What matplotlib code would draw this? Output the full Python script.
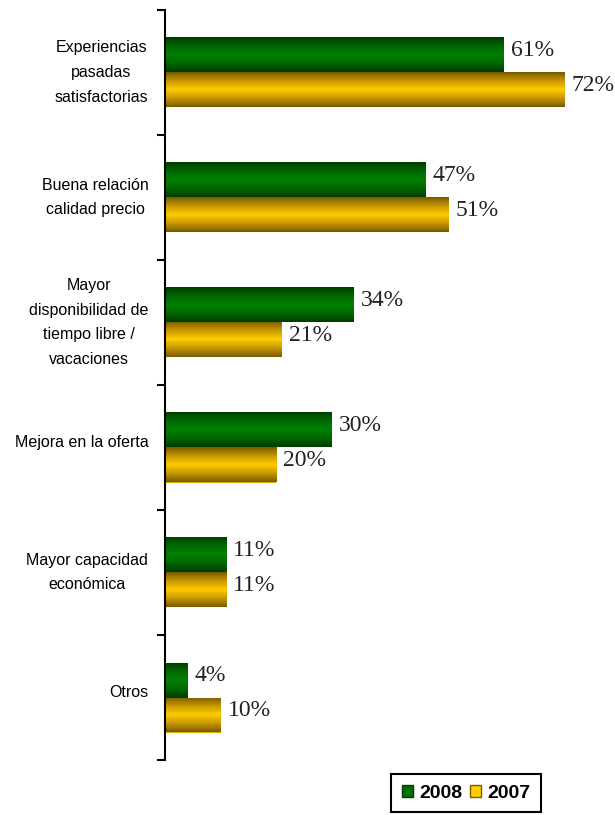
import numpy as np
import matplotlib
matplotlib.use("Agg")
import matplotlib.pyplot as plt
from matplotlib.colors import LinearSegmentedColormap
from matplotlib.patches import Patch

categories = ["Experiencias\npasadas\nsatisfactorias",
              "Buena relación\ncalidad precio",
              "Mayor\ndisponibilidad de\ntiempo libre /\nvacaciones",
              "Mejora en la oferta",
              "Mayor capacidad\neconómica",
              "Otros"]
v2008 = [61, 47, 34, 30, 11, 4]
v2007 = [72, 51, 21, 20, 11, 10]
series_names = ["2008", "2007"]

# gradient maps: dark edge -> bright middle -> dark edge
green_cm = LinearSegmentedColormap.from_list("g", ["#003c00", "#006800", "#008000", "#006800", "#003c00"])
gold_cm = LinearSegmentedColormap.from_list("y", ["#7a5c00", "#c89800", "#ffcc00", "#c89800", "#7a5c00"])

fig = plt.figure(figsize=(6.15, 8.15), dpi=100)
ax = fig.add_axes([165 / 615, 55 / 815, 447 / 615, 750 / 815])

y = np.arange(len(categories))
h = 0.28
bars08 = ax.barh(y - h / 2, v2008, height=h, color="#007000", linewidth=0)
bars07 = ax.barh(y + h / 2, v2007, height=h, color="#e0b000", linewidth=0)

grad = np.linspace(0, 1, 64).reshape(-1, 1)
for bars, cm in [(bars08, green_cm), (bars07, gold_cm)]:
    for b in bars:
        x0, y0 = b.get_x(), b.get_y()
        im = ax.imshow(grad, cmap=cm, aspect="auto", interpolation="nearest",
                       extent=[x0, x0 + b.get_width(), y0 + b.get_height(), y0], zorder=2)
        im.set_clip_path(b)

for bars, vals in [(bars08, v2008), (bars07, v2007)]:
    for b, v in zip(bars, vals):
        ax.annotate(f"{v}%", (b.get_width(), b.get_y() + b.get_height() / 2),
                    xytext=(5, 3), textcoords="offset points",
                    va="center", ha="left", fontsize=17, family="Liberation Serif", color="#222222")

ax.set_xlim(0, 80.5)
ax.set_ylim(len(categories) - 0.5, -0.5)

# labels sit slightly above the category centre in the original
ax.set_yticks(y - 0.05)
ax.set_yticklabels(categories, fontsize=11.5, family="Liberation Sans", linespacing=1.8,
                   multialignment="center")
ax.set_yticks(np.arange(len(categories) + 1) - 0.5, minor=True)
ax.tick_params(axis="y", which="major", length=0, pad=12)
ax.tick_params(axis="y", which="minor", length=6, width=1.5, direction="out")
ax.set_xticks([])

for s in ["top", "right", "bottom"]:
    ax.spines[s].set_visible(False)
ax.spines["left"].set_linewidth(1.5)

handles = [Patch(facecolor="#007000", edgecolor="#003c00"),
           Patch(facecolor="#ffcc00", edgecolor="#7a5c00")]
leg = fig.legend(handles, series_names, loc="upper left", bbox_to_anchor=(391 / 615, 1 - 774 / 815),
                 borderaxespad=0, ncol=2, frameon=True, fancybox=False, edgecolor="black",
                 handlelength=0.57, handleheight=0.57, handletextpad=0.33, columnspacing=0.4,
                 borderpad=0.55, framealpha=1,
                 prop={"family": "Liberation Sans", "weight": "bold", "size": 14})
leg.get_frame().set_linewidth(1.5)

fig.savefig("out.png", dpi=100)
